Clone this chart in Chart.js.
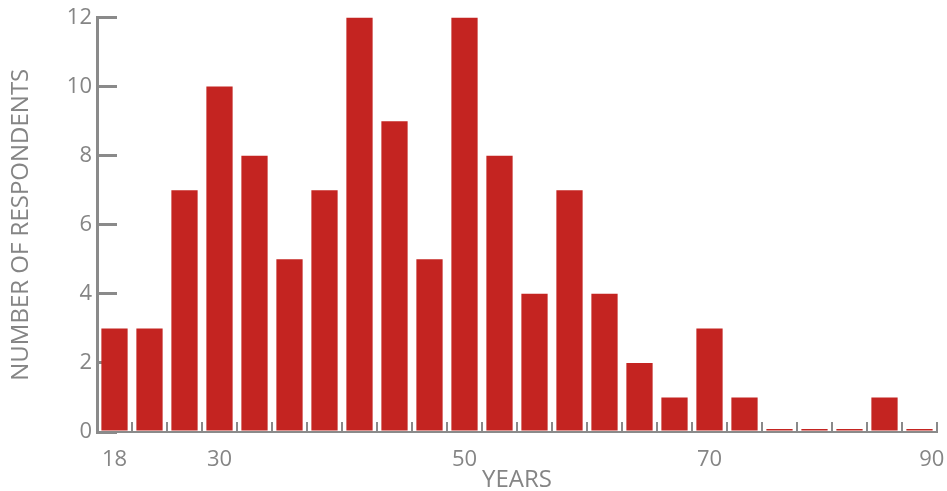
<!DOCTYPE html>
<html>
<head>
<meta charset="utf-8">
<script src="https://cdn.jsdelivr.net/npm/chart.js@4"></script>
<style>
  html, body { margin: 0; padding: 0; background: #ffffff; }
  #wrap { width: 947px; height: 491px; }
</style>
</head>
<body>
<div id="wrap"><canvas id="c"></canvas></div>
<script>
// Histogram bins (index of each age bin) and respondent counts
const binIndex = [0,1,2,3,4,5,6,7,8,9,10,11,12,13,14,15,16,17,18,19,20,21,22,23];
const respondents = [3,3,7,10,8,5,7,12,9,5,12,8,4,7,4,2,1,3,1,0,0,0,1,0];
// Age tick labels and the bin position at which each sits
const ageTickLabels = ['18','30','50','70','90'];
const ageTickPositions = [0,3,10,17,23.35];
const yTicks = [0,2,4,6,8,10,12];

const GREY = '#8a8a8a';
const TEXT = '#858585';
const RED = '#c42421';
const FONT = "'Open Sans', sans-serif";

new Chart(document.getElementById('c'), {
  type: 'bar',
  data: {
    labels: binIndex.map(String),
    datasets: [{
      data: respondents,
      backgroundColor: RED,
      borderWidth: 0,
      categoryPercentage: 1.0,
      barPercentage: 0.75,
      minBarLength: 3,
      xAxisID: 'x',
      yAxisID: 'y'
    }]
  },
  options: {
    responsive: true,
    maintainAspectRatio: false,
    animation: false,
    devicePixelRatio: 1,
    layout: { padding: { top: 17.5, right: 10, left: 0, bottom: 0 } },
    plugins: { legend: { display: false }, tooltip: { enabled: false } },
    scales: {
      x: {
        type: 'category',
        position: 'bottom',
        weight: 0,
        offset: true,
        grid: {
          display: true,
          offset: true,
          drawOnChartArea: false,
          drawTicks: true,
          tickLength: -10,
          color: GREY,
          lineWidth: 2
        },
        border: { display: true, color: GREY, width: 2 },
        ticks: { display: false },
        afterFit: s => { s.height = 0; s.paddingLeft = 0; s.paddingRight = 0; }
      },
      x2: {
        type: 'linear',
        position: 'bottom',
        weight: 1,
        offset: false,
        min: -0.5,
        max: 23.5,
        grid: { display: false, offset: false },
        border: { display: false },
        afterBuildTicks: s => { s.ticks = ageTickPositions.map(v => ({ value: v })); },
        ticks: {
          autoSkip: false,
          maxRotation: 0,
          padding: 7,
          color: TEXT,
          font: { family: FONT, size: 22 },
          callback: (v, i) => ageTickLabels[i]
        },
        title: {
          display: true,
          text: 'YEARS',
          color: TEXT,
          font: { family: FONT, size: 24 },
          padding: { top: 0, bottom: -4 }
        },
        afterFit: s => { s.height = 59; s.paddingLeft = 0; s.paddingRight = 0; }
      },
      y: {
        type: 'linear',
        position: 'left',
        min: 0,
        max: 12,
        afterBuildTicks: s => { s.ticks = yTicks.map(v => ({ value: v })); },
        grid: {
          display: true,
          drawOnChartArea: false,
          drawTicks: true,
          tickLength: -20,
          color: GREY,
          lineWidth: 3
        },
        border: { display: true, color: GREY, width: 3 },
        ticks: {
          padding: 25,
          color: TEXT,
          font: { family: FONT, size: 22 }
        },
        title: {
          display: true,
          text: 'NUMBER OF RESPONDENTS',
          color: TEXT,
          font: { family: FONT, size: 24 },
          padding: { top: 7, bottom: 0 }
        },
        afterFit: s => { s.width = 97; s.paddingTop = 0; s.paddingBottom = 0; }
      }
    }
  }
});
</script>
</body>
</html>
